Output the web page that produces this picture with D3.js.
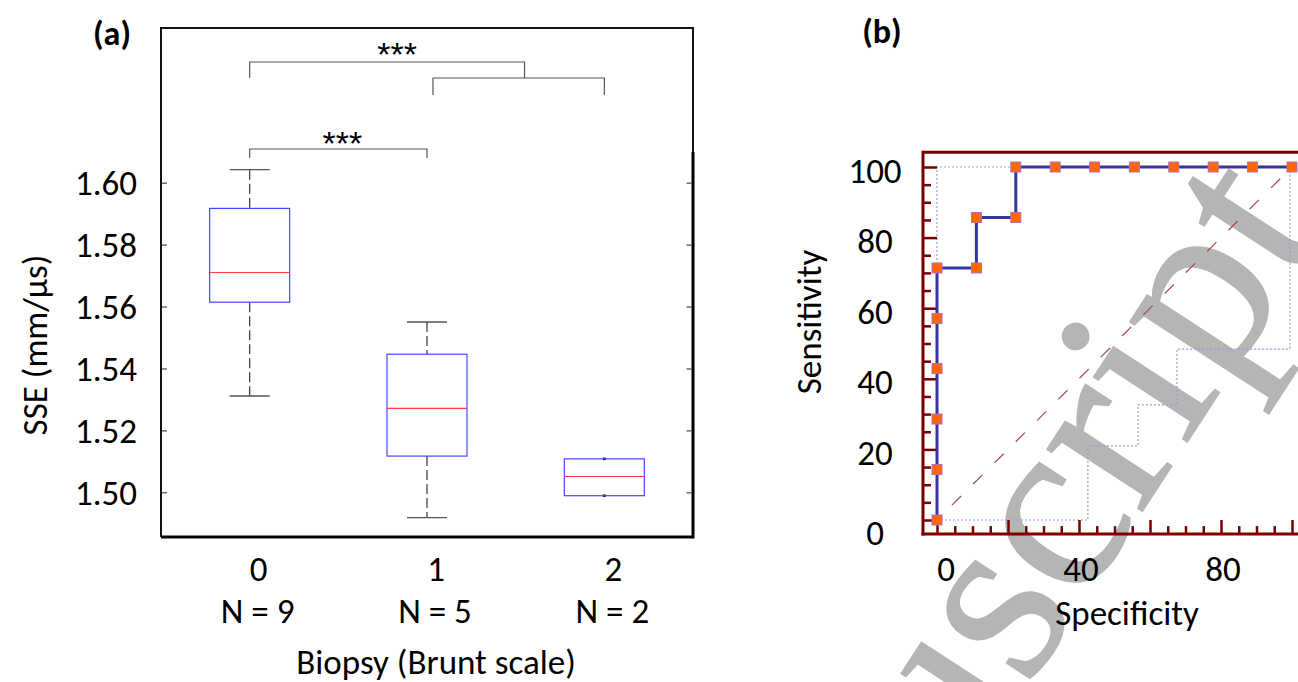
<!DOCTYPE html>
<html>
<head>
<meta charset="utf-8">
<script src="https://cdn.jsdelivr.net/npm/d3@7"></script>
<style>
  html, body { margin: 0; padding: 0; background: #fff; }
  svg { display: block; }
  text { font-family: Carlito, Calibri, Lato, "Open Sans", sans-serif; fill: #000; }
</style>
</head>
<body>
<svg id="fig" width="1298" height="682"></svg>
<script>
// ---- Panel (a): SSE by Brunt grade (box plot summary) ----
const brunt = [0, 1, 2];
const groupCounts = ["N = 9", "N = 5", "N = 2"];
const whiskerHigh = [1.6042, 1.5550, 1.5108];
const upperQuartile = [1.5917, 1.5446, 1.5108];
const medians = [1.5710, 1.5271, 1.5051];
const lowerQuartile = [1.5614, 1.5117, 1.4989];
const whiskerLow = [1.5311, 1.4918, 1.4989];
const sseTicks = [1.50, 1.52, 1.54, 1.56, 1.58, 1.60];

// ---- Panel (b): ROC curve ----
const rocSpecificity = [0, 0, 0, 0, 0, 0, 11.1, 11.1, 22.2, 22.2, 33.3, 44.4, 55.6, 66.7, 77.8, 88.9, 100];
const rocSensitivity = [0, 14.3, 28.6, 42.9, 57.1, 71.4, 71.4, 85.7, 85.7, 100, 100, 100, 100, 100, 100, 100, 100];
const ciUpperSpecificity = [0, 0, 100];
const ciUpperSensitivity = [0, 100, 100];
const ciLowerSpecificity = [0, 42.5, 42.5, 56.6, 56.6, 67.6, 67.6, 99.4, 99.4];
const ciLowerSensitivity = [0, 0, 21.0, 21.0, 32.6, 32.6, 48.4, 48.4, 100];
const rocMajorTicks = [0, 20, 40, 60, 80, 100];
const rocXLabels = [0, 40, 80];

const FS = "35px";
const svg = d3.select("#fig");

// Watermark sits underneath panel (b)
svg.append("text")
  .attr("transform", "translate(712,1174) rotate(-57)")
  .style("font-family", "'Liberation Serif', 'DejaVu Serif', serif")
  .style("font-size", "248px")
  .style("fill", "#b5b5b5")
  .style("stroke", "#b5b5b5").style("stroke-width", 1.5)
  .text("Manuscript");

// ================= Panel (a) =================
const A = { left: 161, right: 693, top: 28, axTop: 152, bottom: 537 };
const xA = d3.scalePoint().domain(brunt).range([A.left, A.right]).padding(0.5);
const yA = d3.scaleLinear().domain([1.50, 1.60]).range([492.3, 182.7]);
const gA = svg.append("g");

// frame
gA.append("path")
  .attr("d", `M${A.left},${A.bottom} V${A.top} H${A.right} V${A.axTop}`)
  .attr("fill", "none").attr("stroke", "#111").attr("stroke-width", 2);
gA.append("path")
  .attr("d", `M${A.left},${A.bottom} H${A.right} V${A.axTop}`)
  .attr("fill", "none").attr("stroke", "#000").attr("stroke-width", 3);

// inner ticks on both sides
const yAxisL = d3.axisRight(yA).tickValues(sseTicks).tickSize(5).tickFormat("");
const yAxisR = d3.axisLeft(yA).tickValues(sseTicks).tickSize(5).tickFormat("");
gA.append("g").attr("transform", `translate(${A.left + 1},0)`).call(yAxisL)
  .call(g => g.select(".domain").remove())
  .call(g => g.selectAll("line").attr("stroke", "#555").attr("stroke-width", 1.3));
gA.append("g").attr("transform", `translate(${A.right - 1.5},0)`).call(yAxisR)
  .call(g => g.select(".domain").remove())
  .call(g => g.selectAll("line").attr("stroke", "#555").attr("stroke-width", 1.3));

// tick labels
gA.selectAll("text.ylab").data(sseTicks).join("text")
  .attr("class", "ylab")
  .attr("x", 137).attr("y", d => yA(d)).attr("dy", "0.36em")
  .attr("text-anchor", "end").style("font-size", FS)
  .text(d => d.toFixed(2));

// boxes
const boxW = 80, capW = 40;
const idx = d => brunt.indexOf(d);
const boxes = gA.selectAll("g.box").data(brunt).join("g").attr("class", "box");
boxes.append("line")
  .attr("x1", d => xA(d)).attr("x2", d => xA(d))
  .attr("y1", d => yA(whiskerHigh[idx(d)])).attr("y2", d => yA(upperQuartile[idx(d)]))
  .attr("stroke", "#333").attr("stroke-width", 1.2).attr("stroke-dasharray", "10,4");
boxes.append("line")
  .attr("x1", d => xA(d)).attr("x2", d => xA(d))
  .attr("y1", d => yA(lowerQuartile[idx(d)])).attr("y2", d => yA(whiskerLow[idx(d)]))
  .attr("stroke", "#333").attr("stroke-width", 1.2).attr("stroke-dasharray", "10,4");
// whisker caps (a zero-length whisker only leaves a short dot)
boxes.append("line")
  .attr("x1", d => xA(d) - (whiskerHigh[idx(d)] === upperQuartile[idx(d)] ? 1.5 : capW / 2))
  .attr("x2", d => xA(d) + (whiskerHigh[idx(d)] === upperQuartile[idx(d)] ? 1.5 : capW / 2))
  .attr("y1", d => yA(whiskerHigh[idx(d)])).attr("y2", d => yA(whiskerHigh[idx(d)]))
  .attr("stroke", d => whiskerHigh[idx(d)] === upperQuartile[idx(d)] ? "#111" : "#555")
  .attr("stroke-width", d => whiskerHigh[idx(d)] === upperQuartile[idx(d)] ? 2.5 : 1.3);
boxes.append("line")
  .attr("x1", d => xA(d) - (whiskerLow[idx(d)] === lowerQuartile[idx(d)] ? 1.5 : capW / 2))
  .attr("x2", d => xA(d) + (whiskerLow[idx(d)] === lowerQuartile[idx(d)] ? 1.5 : capW / 2))
  .attr("y1", d => yA(whiskerLow[idx(d)])).attr("y2", d => yA(whiskerLow[idx(d)]))
  .attr("stroke", d => whiskerLow[idx(d)] === lowerQuartile[idx(d)] ? "#111" : "#555")
  .attr("stroke-width", d => whiskerLow[idx(d)] === lowerQuartile[idx(d)] ? 2.5 : 1.3);
boxes.append("rect")
  .attr("x", d => xA(d) - boxW / 2).attr("width", boxW)
  .attr("y", d => yA(upperQuartile[idx(d)]))
  .attr("height", d => yA(lowerQuartile[idx(d)]) - yA(upperQuartile[idx(d)]))
  .attr("fill", "none").attr("stroke", "#4646ff").attr("stroke-width", 1.2);
boxes.append("line")
  .attr("x1", d => xA(d) - boxW / 2).attr("x2", d => xA(d) + boxW / 2)
  .attr("y1", d => yA(medians[idx(d)])).attr("y2", d => yA(medians[idx(d)]))
  .attr("stroke", "#ff3c3c").attr("stroke-width", 1.2);

// category labels
gA.selectAll("text.xlab").data(brunt).join("text")
  .attr("class", "xlab")
  .attr("x", d => xA(d) + 9).attr("y", 568).attr("dy", "0.36em")
  .attr("text-anchor", "middle").style("font-size", FS)
  .text(d => d);
gA.selectAll("text.nlab").data(brunt).join("text")
  .attr("class", "nlab")
  .attr("x", d => xA(d) + 8).attr("y", 610).attr("dy", "0.36em")
  .attr("text-anchor", "middle").style("font-size", FS)
  .text(d => groupCounts[idx(d)]);
gA.append("text")
  .attr("x", 436).attr("y", 674)
  .attr("text-anchor", "middle").style("font-size", FS)
  .text("Biopsy (Brunt scale)");
gA.append("text")
  .attr("transform", "translate(34,345) rotate(-90)").attr("dy", "0.36em")
  .attr("text-anchor", "middle").style("font-size", FS)
  .text("SSE (mm/µs)");
gA.append("text")
  .attr("x", 112).attr("y", 33).attr("dy", "0.36em")
  .attr("text-anchor", "middle").style("font-size", "34px").style("font-weight", "bold")
  .text("(a)");

// significance brackets
const mid12 = xA(1) + 0.55 * (xA(2) - xA(1));
const brk = gA.append("g").attr("fill", "none").attr("stroke", "#555").attr("stroke-width", 1.2);
brk.append("path").attr("d", `M${xA(0)},78 V62 H${mid12} V78`);
brk.append("path").attr("d", `M${xA(1) + 6},95 V78 H${xA(2)} V95`);
brk.append("path").attr("d", `M${xA(0)},158 V149 H${xA(1)} V158`);
const starStyle = sel => sel.attr("text-anchor", "middle")
  .style("font-family", "'Liberation Sans', Arial, sans-serif").style("font-size", "34px");
gA.append("text").attr("x", (xA(0) + mid12) / 2 + 10).attr("y", 66).call(starStyle).text("***");
gA.append("text").attr("x", (xA(0) + xA(1)) / 2 + 4).attr("y", 155).call(starStyle).text("***");

// ================= Panel (b) =================
const axisRed = "#7a0000";
const xB = d3.scaleLinear().domain([0, 100]).range([937, 1292]);
const yB = d3.scaleLinear().domain([0, 100]).range([520, 167]);
const leftX = xB(-3.95), bottomY = yB(-4), topY = yB(104.2);
const gB = svg.append("g");

// frame top
gB.append("line").attr("x1", leftX).attr("x2", 1298).attr("y1", topY).attr("y2", topY)
  .attr("stroke", axisRed).attr("stroke-width", 3);

// diagonal reference
gB.append("line")
  .attr("x1", xB(0)).attr("y1", yB(0)).attr("x2", xB(100)).attr("y2", yB(100))
  .attr("stroke", "#a84848").attr("stroke-width", 1.2).attr("stroke-dasharray", "13,17").attr("stroke-dashoffset", 9);

// confidence bounds
const lineB = d3.line().x(d => xB(d[0])).y(d => yB(d[1]));
gB.append("path")
  .attr("d", lineB(ciUpperSpecificity.map((v, i) => [v, ciUpperSensitivity[i]])))
  .attr("fill", "none").attr("stroke", "#9a9ad8").attr("stroke-width", 1.2).attr("stroke-dasharray", "2,2");
gB.append("path")
  .attr("d", lineB(ciLowerSpecificity.map((v, i) => [v, ciLowerSensitivity[i]])))
  .attr("fill", "none").attr("stroke", "#9a9ad8").attr("stroke-width", 1.2).attr("stroke-dasharray", "2,2");

// axes with inward ticks
const minorTicks = d3.range(0, 101, 5);
const yMinor = d3.axisRight(yB).tickValues(minorTicks.filter(v => v % 20)).tickSize(8).tickFormat("");
const yMajor = d3.axisRight(yB).tickValues(rocMajorTicks).tickSize(xB(0) - leftX).tickFormat("");
const xMinor = d3.axisTop(xB).tickValues(minorTicks.filter(v => v % 20)).tickSize(8).tickFormat("");
const xMajor = d3.axisTop(xB).tickValues(rocMajorTicks).tickSize(bottomY - yB(0)).tickFormat("");
[yMinor, yMajor].forEach(ax => gB.append("g").attr("transform", `translate(${leftX},0)`).call(ax)
  .call(g => g.select(".domain").remove())
  .call(g => g.selectAll("line").attr("stroke", axisRed).attr("stroke-width", 2.5)));
[xMinor, xMajor].forEach(ax => gB.append("g").attr("transform", `translate(0,${bottomY})`).call(ax)
  .call(g => g.select(".domain").remove())
  .call(g => g.selectAll("line").attr("stroke", axisRed).attr("stroke-width", 2.5)));
gB.append("line").attr("x1", leftX).attr("x2", leftX).attr("y1", topY - 1.5).attr("y2", bottomY + 1.5)
  .attr("stroke", axisRed).attr("stroke-width", 3);
gB.append("line").attr("x1", leftX - 1.5).attr("x2", 1298).attr("y1", bottomY).attr("y2", bottomY)
  .attr("stroke", axisRed).attr("stroke-width", 3);

// tick labels
gB.selectAll("text.ylab").data(rocMajorTicks).join("text")
  .attr("class", "ylab")
  .attr("x", 875).attr("y", d => yB(d) + (d === 0 ? 12 : 3)).attr("dy", "0.36em")
  .attr("text-anchor", "middle").style("font-size", FS)
  .text(d => d);
gB.selectAll("text.xlab").data(rocXLabels).join("text")
  .attr("class", "xlab")
  .attr("x", d => xB(d) + (d === 0 ? 9 : 2)).attr("y", 568).attr("dy", "0.36em")
  .attr("text-anchor", "middle").style("font-size", FS)
  .text(d => d);
gB.append("text")
  .attr("x", 1127).attr("y", 612).attr("dy", "0.36em")
  .attr("text-anchor", "middle").style("font-size", FS)
  .text("Specificity");
gB.append("text")
  .attr("transform", "translate(808,322) rotate(-90)").attr("dy", "0.36em")
  .attr("text-anchor", "middle").style("font-size", FS)
  .text("Sensitivity");
gB.append("text")
  .attr("x", 882).attr("y", 31).attr("dy", "0.36em")
  .attr("text-anchor", "middle").style("font-size", "34px").style("font-weight", "bold")
  .text("(b)");

// ROC curve and markers
const rocPts = rocSpecificity.map((v, i) => [v, rocSensitivity[i]]);
gB.append("path").attr("d", lineB(rocPts))
  .attr("fill", "none").attr("stroke", "#3535a0").attr("stroke-width", 3);
const ms = 10;
gB.selectAll("rect.mk").data(rocPts).join("rect")
  .attr("class", "mk")
  .attr("x", d => xB(d[0]) - ms / 2).attr("y", d => yB(d[1]) - ms / 2)
  .attr("width", ms).attr("height", ms)
  .attr("fill", "#ff6600").attr("stroke", "#b070c0").attr("stroke-width", 1);
</script>
</body>
</html>
